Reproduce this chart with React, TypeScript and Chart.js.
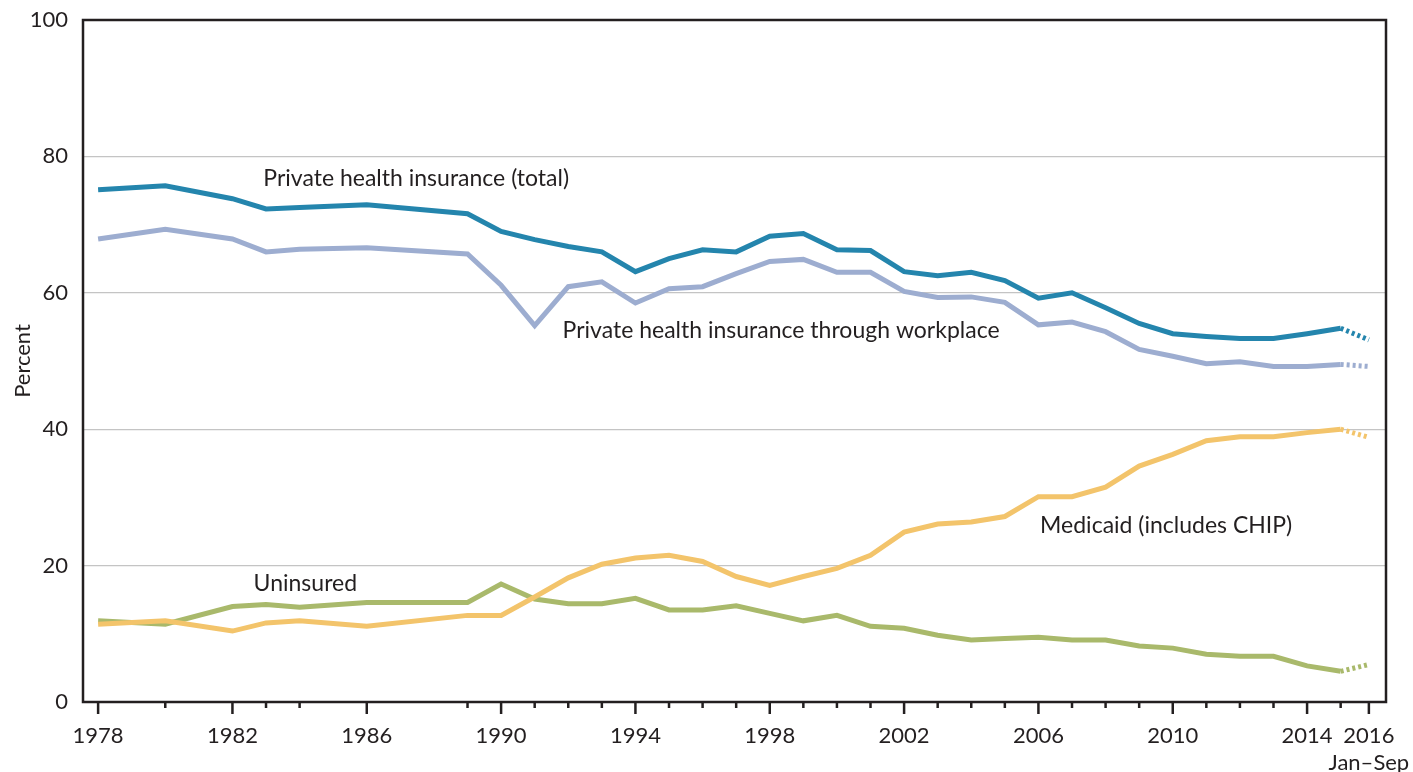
import { useEffect, useRef } from "react";
import { Chart, registerables } from "chart.js";

Chart.register(...registerables);

const years = [
  1978, 1980, 1982, 1983, 1984, 1986, 1989, 1990, 1991, 1992, 1993, 1994, 1995,
  1996, 1997, 1998, 1999, 2000, 2001, 2002, 2003, 2004, 2005, 2006, 2007, 2008,
  2009, 2010, 2011, 2012, 2013, 2014, 2015, 2016,
];

const privateTotal = [
  75.1, 75.7, 73.8, 72.3, 72.5, 72.9, 71.6, 69.0, 67.8, 66.8, 66.0, 63.1, 65.0,
  66.3, 66.0, 68.3, 68.7, 66.3, 66.2, 63.1, 62.5, 63.0, 61.8, 59.2, 60.0, 57.8,
  55.5, 54.0, 53.6, 53.3, 53.3, 54.0, 54.8, 53.1,
];

const privateWorkplace = [
  67.9, 69.3, 67.9, 66.0, 66.4, 66.6, 65.7, 61.1, 55.2, 60.9, 61.6, 58.5, 60.6,
  60.9, 62.8, 64.6, 64.9, 63.0, 63.0, 60.2, 59.3, 59.4, 58.6, 55.3, 55.7, 54.3,
  51.7, 50.7, 49.6, 49.9, 49.2, 49.2, 49.5, 49.2,
];

const medicaid = [
  11.4, 11.9, 10.4, 11.6, 11.9, 11.1, 12.7, 12.7, 15.4, 18.2, 20.2, 21.1, 21.5,
  20.6, 18.4, 17.1, 18.4, 19.6, 21.5, 24.9, 26.1, 26.4, 27.2, 30.1, 30.1, 31.5,
  34.6, 36.3, 38.3, 38.9, 38.9, 39.5, 40.0, 38.8,
];

const uninsured = [
  11.9, 11.4, 14.0, 14.3, 13.9, 14.6, 14.6, 17.3, 15.1, 14.4, 14.4, 15.2, 13.5,
  13.5, 14.1, 13.0, 11.9, 12.7, 11.1, 10.8, 9.8, 9.1, 9.3, 9.5, 9.1, 9.1,
  8.2, 7.9, 7.0, 6.7, 6.7, 5.3, 4.5, 5.5,
];

const labeledYears = [1978, 1982, 1986, 1990, 1994, 1998, 2002, 2006, 2010, 2014, 2016];
const partialYear = 2016;
const partialYearPosition = 2015.84;
const partialYearLabel = ["2016", "Jan–Sep"];

const seriesNames = [
  "Private health insurance (total)",
  "Private health insurance through workplace",
  "Medicaid (includes CHIP)",
  "Uninsured",
];
const seriesColors = ["#2485ad", "#9dadd0", "#f3c46b", "#a9b96b"];

const annotationTexts = [
  "Private health insurance (total)",
  "Private health insurance through workplace",
  "Medicaid (includes CHIP)",
  "Uninsured",
];
const annotationYears = [1982.92, 1991.83, 2006.05, 1982.63];
const annotationValues = [76.8, 54.4, 25.8, 17.4];

const FONT = "Lato, 'Open Sans', sans-serif";
const TEXT = "#231f20";

const xOf = (year: number) => (year === partialYear ? partialYearPosition : year);

export default function App() {
  const canvasRef = useRef<HTMLCanvasElement | null>(null);

  useEffect(() => {
    const canvas = canvasRef.current;
    if (!canvas) return;

    const allSeries = [privateTotal, privateWorkplace, medicaid, uninsured];
    const lastIndex = years.length - 1;

    const framePlugin = {
      id: "frameAndTicks",
      afterDraw(chart: any) {
        const { ctx, chartArea } = chart;
        const xScale = chart.scales.x;
        ctx.save();
        ctx.strokeStyle = TEXT;
        ctx.lineWidth = 2.5;
        ctx.strokeRect(
          chartArea.left,
          chartArea.top,
          chartArea.right - chartArea.left,
          chartArea.bottom - chartArea.top
        );
        years.forEach((yr) => {
          const px = xScale.getPixelForValue(xOf(yr));
          const len = labeledYears.includes(yr) ? 12 : 6;
          ctx.beginPath();
          ctx.moveTo(px, chartArea.bottom);
          ctx.lineTo(px, chartArea.bottom + len);
          ctx.stroke();
        });
        ctx.restore();
      },
      afterDatasetsDraw(chart: any) {
        const { ctx } = chart;
        const xScale = chart.scales.x;
        const yScale = chart.scales.y;
        ctx.save();
        ctx.fillStyle = TEXT;
        ctx.font = `23px ${FONT}`;
        ctx.textAlign = "left";
        ctx.textBaseline = "middle";
        annotationTexts.forEach((t, i) => {
          ctx.fillText(
            t,
            xScale.getPixelForValue(annotationYears[i]),
            yScale.getPixelForValue(annotationValues[i])
          );
        });
        ctx.restore();
      },
    };

    const chart = new Chart(canvas, {
      type: "line",
      data: {
        datasets: allSeries.map((values, si) => ({
          label: seriesNames[si],
          data: years.map((yr, i) => ({ x: xOf(yr), y: values[i] })),
          borderColor: seriesColors[si],
          backgroundColor: seriesColors[si],
          borderWidth: 5,
          pointRadius: 0,
          pointHoverRadius: 0,
          tension: 0,
          fill: false,
          segment: {
            borderDash: (ctx: any) => (ctx.p1DataIndex === lastIndex ? [3, 3] : undefined),
          },
        })),
      },
      options: {
        animation: false,
        responsive: false,
        events: [],
        layout: { padding: { left: 0, right: 27, top: 20, bottom: 0 } },
        plugins: {
          legend: { display: false },
          tooltip: { enabled: false },
          title: { display: false },
        },
        scales: {
          x: {
            type: "linear",
            min: 1977.55,
            max: 2016.35,
            grid: { display: false, drawTicks: false },
            border: { display: false },
            afterBuildTicks: (scale: any) => {
              scale.ticks = labeledYears.map((yr) => ({ value: xOf(yr) }));
            },
            afterFit: (scale: any) => {
              scale.height = 70;
              scale.paddingLeft = 0;
              scale.paddingRight = 0;
            },
            ticks: {
              autoSkip: false,
              maxRotation: 0,
              minRotation: 0,
              padding: 21,
              color: TEXT,
              font: { family: FONT, size: 22 },
              callback: (value: any) => {
                if (Math.abs(value - partialYearPosition) < 0.01) return partialYearLabel;
                return String(Math.round(value));
              },
            },
          },
          y: {
            type: "linear",
            min: 0,
            max: 100,
            grid: {
              drawTicks: false,
              color: (ctx: any) =>
                ctx.tick && (ctx.tick.value === 0 || ctx.tick.value === 100)
                  ? "rgba(0,0,0,0)"
                  : "#c4c4c4",
              lineWidth: 1.2,
            },
            border: { display: false },
            afterFit: (scale: any) => {
              scale.width = 83;
              scale.paddingTop = 0;
              scale.paddingBottom = 0;
            },
            ticks: {
              stepSize: 20,
              padding: 15,
              color: TEXT,
              font: { family: FONT, size: 22 },
            },
            title: {
              display: true,
              text: "Percent",
              color: TEXT,
              font: { family: FONT, size: 22 },
              padding: { top: 10, bottom: 0 },
            },
          },
        },
      },
      plugins: [framePlugin],
    });

    return () => chart.destroy();
  }, []);

  return (
    <div style={{ position: "absolute", left: 0, top: 0, width: 1413, height: 772, background: "#fff" }}>
      <canvas ref={canvasRef} width={1413} height={772} style={{ display: "block" }} />
    </div>
  );
}
